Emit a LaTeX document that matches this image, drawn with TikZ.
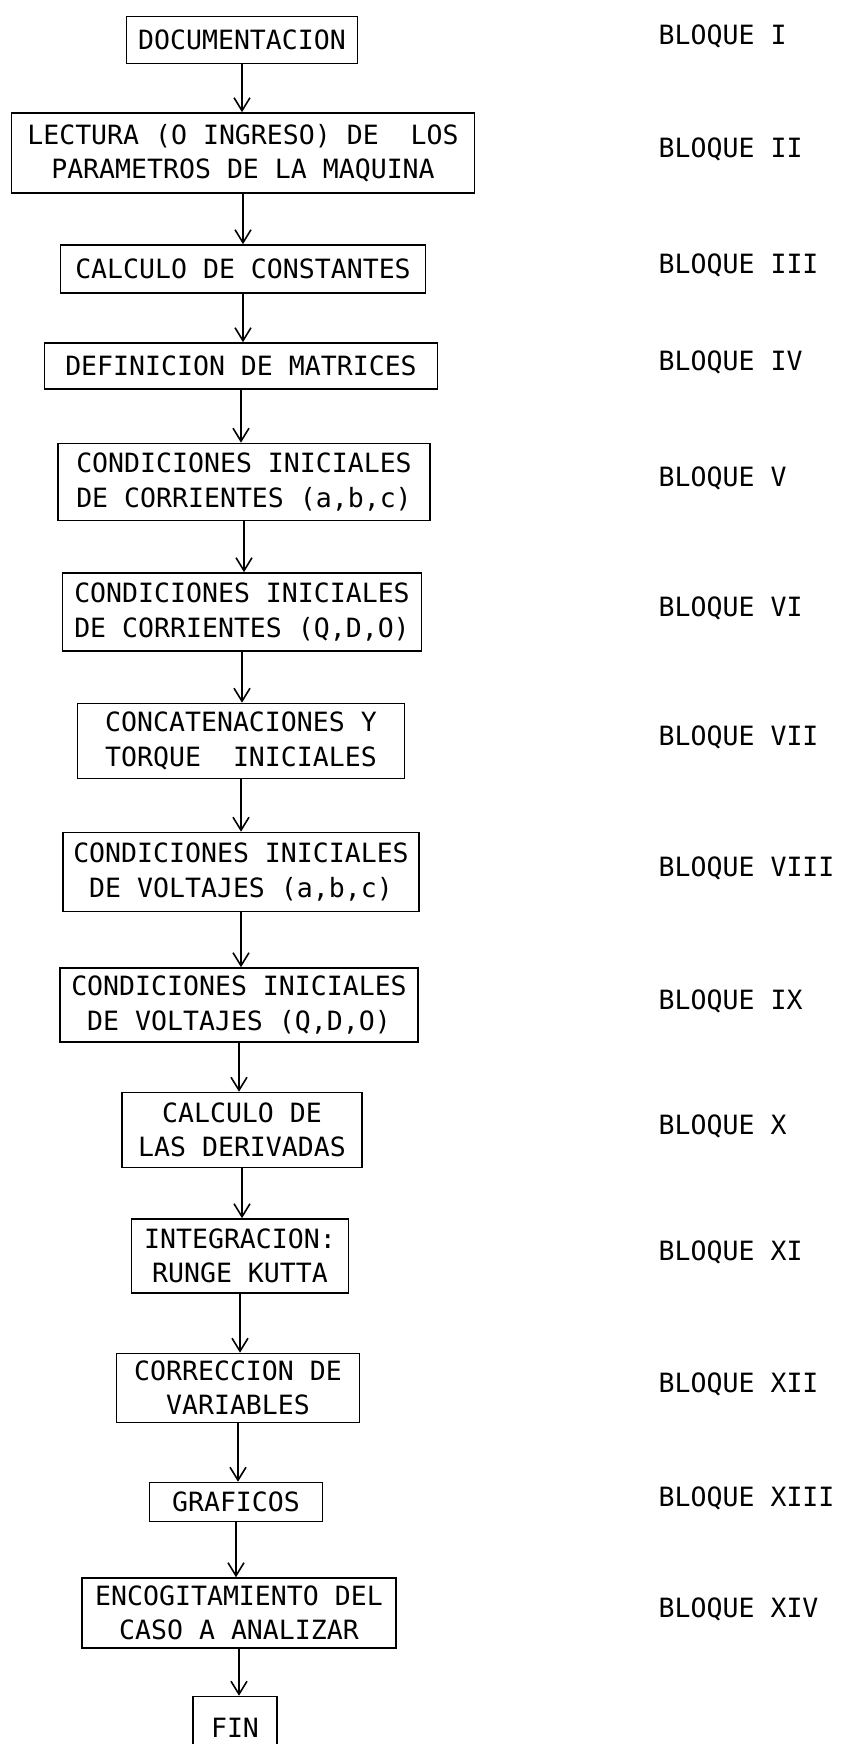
\documentclass[tikz,border=0pt]{standalone}
\usepackage{fontspec}
\setmonofont{DejaVu Sans Mono}
\usepackage{tikz}
\usetikzlibrary{arrows.meta,positioning}

\begin{document}
\begin{tikzpicture}[
  font=\ttfamily\fontsize{15.1}{19.5}\selectfont,
  box/.style={draw, line width=0.9pt, align=center, inner sep=2pt},
  lbl/.style={anchor=west, yshift=0.08cm},
  ar/.style={-{Straight Barb[length=0.26cm, width=0.32cm]}, line width=0.9pt},
]
\useasboundingbox (0,0) rectangle (16.84,-34.88);
\clip (0,0) rectangle (16.84,-34.88);

\node[box, minimum width=4.62cm, minimum height=0.94cm] (doc) at (4.84,-0.80)
  {DOCUMENTACION};
\node[box, minimum width=9.26cm, minimum height=1.60cm] (lect) at (4.86,-3.06)
  {LECTURA (O INGRESO) DE\ \ LOS\\PARAMETROS DE LA MAQUINA};
\node[box, minimum width=7.30cm, minimum height=0.96cm] (cons) at (4.86,-5.38)
  {CALCULO DE CONSTANTES};
\node[box, minimum width=7.86cm, minimum height=0.92cm] (mat) at (4.82,-7.32)
  {DEFINICION DE MATRICES};
\node[box, minimum width=7.44cm, minimum height=1.54cm] (ciabc) at (4.88,-9.64)
  {CONDICIONES INICIALES\\DE CORRIENTES (a,b,c)};
\node[box, minimum width=7.18cm, minimum height=1.56cm] (ciqdo) at (4.84,-12.24)
  {CONDICIONES INICIALES\\DE CORRIENTES (Q,D,O)};
\node[box, minimum width=6.54cm, minimum height=1.50cm] (conc) at (4.82,-14.82)
  {CONCATENACIONES Y\\TORQUE\ \ INICIALES};
\node[box, minimum width=7.12cm, minimum height=1.58cm] (cvabc) at (4.82,-17.44)
  {CONDICIONES INICIALES\\DE VOLTAJES (a,b,c)};
\node[box, minimum width=7.16cm, minimum height=1.48cm] (cvqdo) at (4.78,-20.10)
  {CONDICIONES INICIALES\\DE VOLTAJES (Q,D,O)};
\node[box, minimum width=4.80cm, minimum height=1.50cm] (deriv) at (4.84,-22.60)
  {CALCULO DE\\LAS DERIVADAS};
\node[box, minimum width=4.34cm, minimum height=1.48cm] (integ) at (4.80,-25.12)
  {INTEGRACION:\\RUNGE KUTTA};
\node[box, minimum width=4.86cm, minimum height=1.38cm] (corr) at (4.76,-27.76)
  {CORRECCION DE\\VARIABLES};
\node[box, minimum width=3.46cm, minimum height=0.78cm] (graf) at (4.72,-30.04)
  {GRAFICOS};
\node[box, minimum width=6.28cm, minimum height=1.40cm] (encog) at (4.78,-32.26)
  {ENCOGITAMIENTO DEL\\CASO A ANALIZAR};
\node[box, minimum width=1.68cm, minimum height=1.26cm] (fin) at (4.70,-34.56)
  {FIN};

% block labels
\foreach \n/\r in {doc/I, lect/II, cons/III, mat/IV, ciabc/V, ciqdo/VI,
                   conc/VII, cvabc/VIII, cvqdo/IX, deriv/X, integ/XI,
                   corr/XII, graf/XIII, encog/XIV}
  \node[lbl] (b\r) at (13.05,0 |- \n) {BLOQUE \r};

% flow
\foreach \a/\b in {doc/lect, lect/cons, cons/mat, mat/ciabc, ciabc/ciqdo,
                   ciqdo/conc, conc/cvabc, cvabc/cvqdo, cvqdo/deriv,
                   deriv/integ, integ/corr, corr/graf, graf/encog, encog/fin}
  \draw[ar] (\a.south) -- (\a.south |- \b.north);

\end{tikzpicture}
\end{document}
